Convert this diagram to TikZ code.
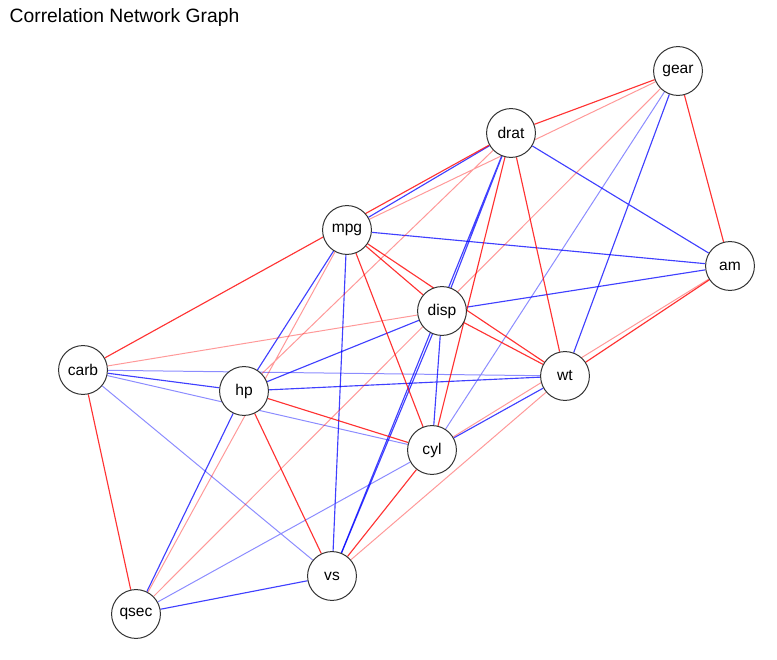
\documentclass[tikz,border=0pt]{standalone}
\usepackage{fontspec}
\setmainfont{Liberation Sans}
\usepackage{tikz}
\usetikzlibrary{backgrounds}
\tikzset{
  vnode/.style={circle,draw=black!80,fill=white,line width=0.75pt,
    minimum size=1.29cm,inner sep=0pt,font=\fontsize{11.7}{14}\selectfont},
  posedge/.style={blue,draw opacity=0.75,line width=0.85pt},
  poslight/.style={blue,draw opacity=0.45,line width=0.75pt},
  negedge/.style={red,draw opacity=0.8,line width=0.85pt},
  neglight/.style={red,draw opacity=0.4,line width=0.75pt}
}

\begin{document}
\begin{tikzpicture}[x=0.0264cm,y=-0.0264cm]
\useasboundingbox (0,0) rectangle (777,660);
\node[anchor=west,font=\fontsize{14.5}{17}\selectfont] (title) at (5,18) {Correlation Network Graph};
\node[vnode] (gear) at (678,71) {gear}; \node[vnode] (drat) at (511,133) {drat};
\node[vnode] (mpg) at (347,230) {mpg}; \node[vnode] (am) at (730,266) {am};
\node[vnode] (disp) at (442,311) {disp}; \node[vnode] (carb) at (83,370) {carb};
\node[vnode] (wt) at (565,376) {wt}; \node[vnode] (hp) at (244,391) {hp};
\node[vnode] (cyl) at (432,450) {cyl}; \node[vnode] (vs) at (332,576) {vs};
\node[vnode] (qsec) at (136,614) {qsec};
\begin{scope}[on background layer]
% positive
\draw[posedge] (drat)--(mpg) (drat)--(am) (drat)--(disp) (drat)--(vs) (gear)--(wt);
\draw[posedge] (mpg)--(am) (mpg)--(vs) (mpg)--(hp) (carb)--(hp);
\draw[posedge] (hp)--(disp) (hp)--(wt) (hp)--(qsec) (disp)--(am) (disp)--(cyl);
\draw[posedge] (disp)--(vs) (cyl)--(wt) (vs)--(qsec);
\draw[poslight] (gear)--(cyl) (carb)--(wt) (carb)--(cyl) (carb)--(vs) (cyl)--(qsec);
% negative
\draw[negedge] (gear)--(drat) (gear)--(am) (carb)--(drat) (mpg)--(disp) (mpg)--(wt);
\draw[negedge] (mpg)--(cyl) (carb)--(qsec) (hp)--(cyl) (hp)--(vs) (disp)--(wt);
\draw[negedge] (drat)--(cyl) (drat)--(wt) (cyl)--(vs) (wt)--(am);
\draw[neglight] (gear)--(mpg) (gear)--(qsec) (hp)--(drat) (mpg)--(qsec);
\draw[neglight] (carb)--(disp) (cyl)--(am) (vs)--(wt);
\end{scope}
\end{tikzpicture}
\end{document}
